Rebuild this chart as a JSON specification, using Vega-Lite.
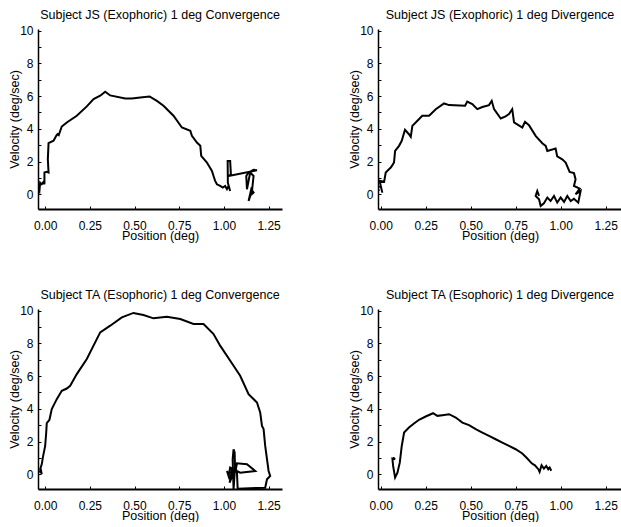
{
  "$schema": "https://vega.github.io/schema/vega-lite/v6.json",
  "padding": {"left": 8, "top": 9, "right": 0, "bottom": 0},
  "datasets": {
    "js_conv": [
      {"i":1,"x":-0.041,"y":0.0},{"i":2,"x":-0.037,"y":0.31},{"i":3,"x":-0.032,"y":0.2},{"i":4,"x":-0.028,"y":0.71},
      {"i":5,"x":-0.019,"y":0.61},{"i":6,"x":-0.009,"y":0.76},{"i":7,"x":-0.004,"y":0.61},{"i":8,"x":-0.004,"y":1.33},
      {"i":9,"x":0.009,"y":1.37},{"i":10,"x":0.019,"y":1.33},{"i":11,"x":0.015,"y":2.14},{"i":12,"x":0.019,"y":3.12},
      {"i":13,"x":0.047,"y":3.27},{"i":14,"x":0.062,"y":3.57},{"i":15,"x":0.069,"y":3.67},{"i":16,"x":0.076,"y":3.61},
      {"i":17,"x":0.093,"y":4.14},{"i":18,"x":0.121,"y":4.39},{"i":19,"x":0.177,"y":4.8},{"i":20,"x":0.233,"y":5.37},
      {"i":21,"x":0.271,"y":5.82},{"i":22,"x":0.308,"y":6.02},{"i":23,"x":0.336,"y":6.27},{"i":24,"x":0.364,"y":6.04},
      {"i":25,"x":0.448,"y":5.86},{"i":26,"x":0.485,"y":5.86},{"i":27,"x":0.532,"y":5.92},{"i":28,"x":0.584,"y":5.98},
      {"i":29,"x":0.625,"y":5.71},{"i":30,"x":0.662,"y":5.41},{"i":31,"x":0.718,"y":4.8},{"i":32,"x":0.765,"y":4.08},
      {"i":33,"x":0.812,"y":3.88},{"i":34,"x":0.821,"y":3.57},{"i":35,"x":0.849,"y":3.16},{"i":36,"x":0.868,"y":2.96},
      {"i":37,"x":0.873,"y":2.35},{"i":38,"x":0.905,"y":1.94},{"i":39,"x":0.933,"y":1.43},{"i":40,"x":0.942,"y":1.12},
      {"i":41,"x":0.951,"y":0.82},{"i":42,"x":0.961,"y":0.61},{"i":43,"x":0.979,"y":0.51},{"i":44,"x":0.994,"y":0.41},
      {"i":45,"x":1.007,"y":0.51},{"i":46,"x":1.017,"y":0.31},{"i":47,"x":1.026,"y":0.51},{"i":48,"x":1.035,"y":0.2},
      {"i":49,"x":1.022,"y":0.71},{"i":50,"x":1.021,"y":2.04},{"i":51,"x":1.035,"y":2.04},{"i":52,"x":1.039,"y":1.22},
      {"i":53,"x":1.026,"y":1.12},{"i":54,"x":1.185,"y":1.47},{"i":55,"x":1.166,"y":1.49},{"i":56,"x":1.138,"y":1.33},
      {"i":57,"x":1.125,"y":1.12},{"i":58,"x":1.129,"y":0.31},{"i":59,"x":1.147,"y":1.33},{"i":60,"x":1.166,"y":1.12},
      {"i":61,"x":1.157,"y":0.2},{"i":62,"x":1.138,"y":-0.41},{"i":63,"x":1.153,"y":0.31},{"i":64,"x":1.166,"y":0.1},
      {"i":65,"x":1.144,"y":-0.1}
    ],
    "js_div": [
      {"i":1,"x":-0.009,"y":0.2},{"i":2,"x":-0.019,"y":0.41},{"i":3,"x":0.0,"y":0.51},{"i":4,"x":0.009,"y":0.1},
      {"i":5,"x":-0.006,"y":0.82},{"i":6,"x":0.019,"y":0.76},{"i":7,"x":0.028,"y":1.33},{"i":8,"x":0.046,"y":1.53},
      {"i":9,"x":0.056,"y":1.63},{"i":10,"x":0.065,"y":1.78},{"i":11,"x":0.074,"y":1.94},{"i":12,"x":0.08,"y":2.65},
      {"i":13,"x":0.102,"y":2.96},{"i":14,"x":0.117,"y":3.27},{"i":15,"x":0.135,"y":3.94},{"i":16,"x":0.157,"y":3.67},
      {"i":17,"x":0.167,"y":3.51},{"i":18,"x":0.176,"y":4.18},{"i":19,"x":0.204,"y":4.49},{"i":20,"x":0.231,"y":4.8},
      {"i":21,"x":0.269,"y":4.8},{"i":22,"x":0.306,"y":5.2},{"i":23,"x":0.352,"y":5.55},{"i":24,"x":0.38,"y":5.45},
      {"i":25,"x":0.469,"y":5.41},{"i":26,"x":0.481,"y":5.67},{"i":27,"x":0.509,"y":5.51},{"i":28,"x":0.537,"y":5.2},
      {"i":29,"x":0.565,"y":5.33},{"i":30,"x":0.602,"y":5.45},{"i":31,"x":0.617,"y":5.71},{"i":32,"x":0.63,"y":5.2},
      {"i":33,"x":0.667,"y":4.63},{"i":34,"x":0.694,"y":4.76},{"i":35,"x":0.713,"y":4.9},{"i":36,"x":0.731,"y":5.2},
      {"i":37,"x":0.741,"y":4.39},{"i":38,"x":0.787,"y":4.08},{"i":39,"x":0.802,"y":4.43},{"i":40,"x":0.824,"y":4.22},
      {"i":41,"x":0.861,"y":3.57},{"i":42,"x":0.898,"y":3.12},{"i":43,"x":0.917,"y":2.96},{"i":44,"x":0.926,"y":2.65},
      {"i":45,"x":0.972,"y":2.8},{"i":46,"x":0.981,"y":2.31},{"i":47,"x":1.009,"y":2.14},{"i":48,"x":1.028,"y":1.94},
      {"i":49,"x":1.05,"y":1.37},{"i":50,"x":1.074,"y":1.29},{"i":51,"x":1.083,"y":0.92},{"i":52,"x":1.074,"y":0.51},
      {"i":53,"x":1.106,"y":0.35},{"i":54,"x":1.083,"y":0.0},{"i":55,"x":1.111,"y":0.2},{"i":56,"x":1.098,"y":-0.51},
      {"i":57,"x":1.074,"y":-0.27},{"i":58,"x":1.056,"y":-0.41},{"i":59,"x":1.037,"y":-0.1},{"i":60,"x":1.019,"y":-0.47},
      {"i":61,"x":1.0,"y":-0.2},{"i":62,"x":0.981,"y":-0.51},{"i":63,"x":0.963,"y":-0.1},{"i":64,"x":0.944,"y":-0.41},
      {"i":65,"x":0.926,"y":-0.2},{"i":66,"x":0.907,"y":-0.55},{"i":67,"x":0.889,"y":-0.71},{"i":68,"x":0.88,"y":-0.31},
      {"i":69,"x":0.861,"y":-0.1},{"i":70,"x":0.87,"y":0.2},{"i":71,"x":0.88,"y":-0.1}
    ],
    "ta_conv": [
      {"i":1,"x":-0.032,"y":0.1},{"i":2,"x":-0.024,"y":0.27},{"i":3,"x":-0.019,"y":0.0},{"i":4,"x":-0.028,"y":0.31},
      {"i":5,"x":-0.019,"y":0.61},{"i":6,"x":-0.013,"y":1.02},{"i":7,"x":0.0,"y":1.73},{"i":8,"x":0.006,"y":2.55},
      {"i":9,"x":0.009,"y":3.12},{"i":10,"x":0.024,"y":3.33},{"i":11,"x":0.037,"y":3.98},{"i":12,"x":0.065,"y":4.59},
      {"i":13,"x":0.093,"y":5.1},{"i":14,"x":0.121,"y":5.24},{"i":15,"x":0.14,"y":5.41},{"i":16,"x":0.177,"y":6.12},
      {"i":17,"x":0.233,"y":7.04},{"i":18,"x":0.308,"y":8.67},{"i":19,"x":0.364,"y":9.08},{"i":20,"x":0.429,"y":9.59},
      {"i":21,"x":0.494,"y":9.86},{"i":22,"x":0.55,"y":9.73},{"i":23,"x":0.606,"y":9.53},{"i":24,"x":0.681,"y":9.63},
      {"i":25,"x":0.756,"y":9.49},{"i":26,"x":0.83,"y":9.18},{"i":27,"x":0.886,"y":9.18},{"i":28,"x":0.942,"y":8.57},
      {"i":29,"x":0.979,"y":7.86},{"i":30,"x":1.054,"y":6.63},{"i":31,"x":1.091,"y":6.02},{"i":32,"x":1.138,"y":4.9},
      {"i":33,"x":1.185,"y":4.39},{"i":34,"x":1.203,"y":3.78},{"i":35,"x":1.213,"y":2.96},{"i":36,"x":1.222,"y":2.76},
      {"i":37,"x":1.231,"y":1.73},{"i":38,"x":1.241,"y":0.92},{"i":39,"x":1.25,"y":0.2},{"i":40,"x":1.259,"y":-0.1},
      {"i":41,"x":1.241,"y":-0.31},{"i":42,"x":1.231,"y":-0.82},{"i":43,"x":1.077,"y":-0.88},{"i":44,"x":1.073,"y":0.1},
      {"i":45,"x":1.063,"y":0.51},{"i":46,"x":1.054,"y":-0.92},{"i":47,"x":1.049,"y":0.92},{"i":48,"x":1.054,"y":1.53},
      {"i":49,"x":1.06,"y":1.33},{"i":50,"x":1.063,"y":0.1},{"i":51,"x":1.073,"y":0.67},{"i":52,"x":1.129,"y":0.61},
      {"i":53,"x":1.175,"y":0.2},{"i":54,"x":1.091,"y":0.1},{"i":55,"x":1.035,"y":0.41},{"i":56,"x":1.026,"y":-0.1},
      {"i":57,"x":1.017,"y":0.2},{"i":58,"x":1.035,"y":-0.31},{"i":59,"x":1.045,"y":0.31},{"i":60,"x":1.032,"y":-0.51},
      {"i":61,"x":1.054,"y":0.1},{"i":62,"x":1.035,"y":0.1}
    ],
    "ta_div": [
      {"i":1,"x":0.069,"y":1.02},{"i":2,"x":0.08,"y":0.92},{"i":3,"x":0.065,"y":0.96},{"i":4,"x":0.069,"y":0.51},
      {"i":5,"x":0.08,"y":-0.2},{"i":6,"x":0.093,"y":0.1},{"i":7,"x":0.106,"y":0.71},{"i":8,"x":0.117,"y":1.73},
      {"i":9,"x":0.13,"y":2.55},{"i":10,"x":0.157,"y":2.86},{"i":11,"x":0.185,"y":3.1},{"i":12,"x":0.213,"y":3.33},
      {"i":13,"x":0.25,"y":3.53},{"i":14,"x":0.291,"y":3.73},{"i":15,"x":0.315,"y":3.57},{"i":16,"x":0.343,"y":3.61},
      {"i":17,"x":0.38,"y":3.67},{"i":18,"x":0.417,"y":3.47},{"i":19,"x":0.454,"y":3.16},{"i":20,"x":0.491,"y":3.0},
      {"i":21,"x":0.528,"y":2.76},{"i":22,"x":0.565,"y":2.55},{"i":23,"x":0.602,"y":2.35},{"i":24,"x":0.639,"y":2.14},
      {"i":25,"x":0.676,"y":1.94},{"i":26,"x":0.713,"y":1.73},{"i":27,"x":0.75,"y":1.53},{"i":28,"x":0.787,"y":1.27},
      {"i":29,"x":0.815,"y":0.96},{"i":30,"x":0.839,"y":0.67},{"i":31,"x":0.857,"y":0.55},{"i":32,"x":0.876,"y":0.31},
      {"i":33,"x":0.883,"y":0.14},{"i":34,"x":0.894,"y":0.55},{"i":35,"x":0.907,"y":0.35},{"i":36,"x":0.92,"y":0.51},
      {"i":37,"x":0.931,"y":0.31},{"i":38,"x":0.939,"y":0.41},{"i":39,"x":0.948,"y":0.22}
    ]
  },
  "columns": 2,
  "spacing": {"row": 47, "column": 66},
  "concat": [
    {
      "title": "Subject JS (Exophoric) 1 deg Convergence",
      "width": 244, "height": 180,
      "data": {"name": "js_conv"},
      "mark": {"type": "line", "color": "black", "strokeWidth": 2, "clip": true},
      "encoding": {
        "x": {"field": "x", "type": "quantitative", "scale": {"domain": [-0.04, 1.325], "nice": false, "zero": false},
              "axis": {"title": "Position (deg)", "values": [0, 0.25, 0.5, 0.75, 1, 1.25], "format": ".2f"}},
        "y": {"field": "y", "type": "quantitative", "scale": {"domain": [-0.9, 10.1], "nice": false, "zero": false},
              "axis": {"title": "Velocity (deg/sec)", "values": [0,1,2,3,4,5,6,7,8,9,10], "labelExpr": "datum.value % 2 === 0 ? datum.label : ''"}},
        "order": {"field": "i"}
      }
    },
    {
      "title": "Subject JS (Exophoric) 1 deg Divergence",
      "width": 244, "height": 180,
      "data": {"name": "js_div"},
      "mark": {"type": "line", "color": "black", "strokeWidth": 2, "clip": true},
      "encoding": {
        "x": {"field": "x", "type": "quantitative", "scale": {"domain": [-0.015, 1.341], "nice": false, "zero": false},
              "axis": {"title": "Position (deg)", "values": [0, 0.25, 0.5, 0.75, 1, 1.25], "format": ".2f"}},
        "y": {"field": "y", "type": "quantitative", "scale": {"domain": [-0.9, 10.1], "nice": false, "zero": false},
              "axis": {"title": "Velocity (deg/sec)", "values": [0,1,2,3,4,5,6,7,8,9,10], "labelExpr": "datum.value % 2 === 0 ? datum.label : ''"}},
        "order": {"field": "i"}
      }
    },
    {
      "title": "Subject TA (Esophoric) 1 deg Convergence",
      "width": 244, "height": 180,
      "data": {"name": "ta_conv"},
      "mark": {"type": "line", "color": "black", "strokeWidth": 2, "clip": true},
      "encoding": {
        "x": {"field": "x", "type": "quantitative", "scale": {"domain": [-0.04, 1.325], "nice": false, "zero": false},
              "axis": {"title": "Position (deg)", "values": [0, 0.25, 0.5, 0.75, 1, 1.25], "format": ".2f"}},
        "y": {"field": "y", "type": "quantitative", "scale": {"domain": [-0.9, 10.1], "nice": false, "zero": false},
              "axis": {"title": "Velocity (deg/sec)", "values": [0,1,2,3,4,5,6,7,8,9,10], "labelExpr": "datum.value % 2 === 0 ? datum.label : ''"}},
        "order": {"field": "i"}
      }
    },
    {
      "title": "Subject TA (Esophoric) 1 deg Divergence",
      "width": 244, "height": 180,
      "data": {"name": "ta_div"},
      "mark": {"type": "line", "color": "black", "strokeWidth": 2, "clip": true},
      "encoding": {
        "x": {"field": "x", "type": "quantitative", "scale": {"domain": [-0.015, 1.341], "nice": false, "zero": false},
              "axis": {"title": "Position (deg)", "values": [0, 0.25, 0.5, 0.75, 1, 1.25], "format": ".2f"}},
        "y": {"field": "y", "type": "quantitative", "scale": {"domain": [-0.9, 10.1], "nice": false, "zero": false},
              "axis": {"title": "Velocity (deg/sec)", "values": [0,1,2,3,4,5,6,7,8,9,10], "labelExpr": "datum.value % 2 === 0 ? datum.label : ''"}},
        "order": {"field": "i"}
      }
    }
  ],
  "config": {
    "view": {"stroke": null},
    "font": "Liberation Sans",
    "axis": {
      "grid": false, "domainColor": "black", "tickColor": "black", "tickSize": -3, "tickWidth": 1,
      "labelColor": "black", "titleColor": "black", "labelFontSize": 12, "titleFontSize": 12.5,
      "titleFontWeight": "normal", "labelFont": "Liberation Sans", "titleFont": "Liberation Sans"
    },
    "axisX": {"domainWidth": 2, "labelPadding": 14, "titlePadding": -2},
    "axisY": {"domainWidth": 1.5, "labelPadding": 8, "titlePadding": -2},
    "title": {"fontSize": 12.5, "fontWeight": "normal", "offset": 3, "color": "black", "font": "Liberation Sans"}
  }
}
